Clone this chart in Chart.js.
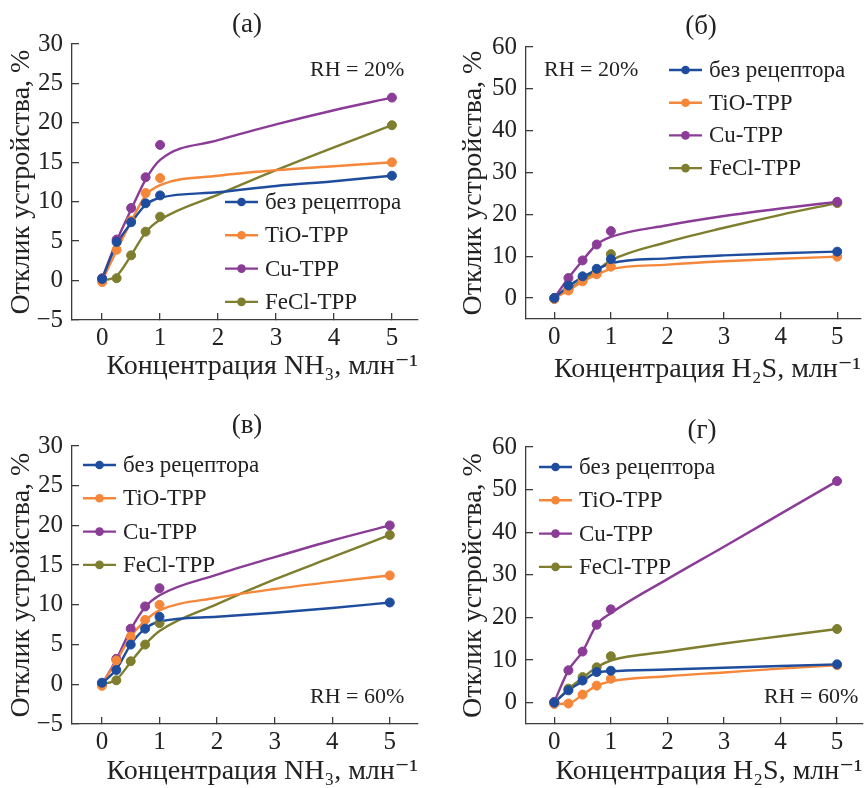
<!DOCTYPE html>
<html>
<head>
<meta charset="utf-8">
<script src="https://cdn.jsdelivr.net/npm/chart.js@4.4.1/dist/chart.umd.min.js"></script>
<style>
  html, body { margin: 0; padding: 0; background: #fff; }
  #wrap { position: relative; width: 868px; height: 788px; }
  .panel { position: absolute; width: 434px; height: 394px; }
</style>
</head>
<body>
<div id="wrap">
  <div class="panel" style="left:0;top:0"><canvas id="chA" width="434" height="394"></canvas></div>
  <div class="panel" style="left:434px;top:0"><canvas id="chB" width="434" height="394"></canvas></div>
  <div class="panel" style="left:0;top:394px"><canvas id="chV" width="434" height="394"></canvas></div>
  <div class="panel" style="left:434px;top:394px"><canvas id="chG" width="434" height="394"></canvas></div>
</div>
<script>
// концентрации (млн^-1) и точки сглаживающих кривых
const concX = [0, 0.25, 0.5, 0.75, 1, 5];
const fitX = [0, 0.25, 0.5, 0.75, 1, 2, 3, 4, 5];
const xTicks = [0, 1, 2, 3, 4, 5];
const yTicksNH3 = [-5, 0, 5, 10, 15, 20, 25, 30];
const yTicksH2S = [0, 10, 20, 30, 40, 50, 60];
const seriesNames = ["без рецептора", "TiO-TPP", "Cu-TPP", "FeCl-TPP"];

// (а) NH3, RH = 20%
const aBlank = [0.2, 4.9, 7.4, 9.8, 10.8, 13.3];
const aTiO = [-0.2, 3.9, 7.6, 11.1, 13.0, 15.0];
const aCu = [0.3, 5.2, 9.2, 13.1, 17.2, 23.2];
const aFeCl = [0.1, 0.3, 3.2, 6.2, 8.1, 19.7];
const aBlankFit = [0.2, 4.6, 7.3, 9.6, 10.5, 11.2, 12.0, 12.6, 13.3];
const aTiOFit = [0, 3.8, 7.5, 10.8, 12.1, 13.3, 14.0, 14.5, 15.0];
const aCuFit = [0.3, 5.0, 9.0, 12.8, 15.3, 17.8, 19.8, 21.6, 23.2];
const aFeClFit = [0, 0.6, 3.2, 6.1, 7.7, 10.9, 14.0, 16.9, 19.7];

// (б) H2S, RH = 20%
const bBlank = [0, 3.0, 5.2, 7.0, 9.3, 11.1];
const bTiO = [-0.2, 1.8, 4.0, 5.7, 7.5, 9.9];
const bCu = [0, 4.8, 9.0, 12.8, 16.0, 23.0];
const bFeCl = [-0.2, 2.1, 4.5, 6.5, 10.5, 22.7];
const bBlankFit = [0, 2.8, 5.0, 6.8, 8.3, 9.5, 10.2, 10.7, 11.1];
const bTiOFit = [0, 1.8, 4.0, 5.6, 6.9, 8.0, 8.8, 9.4, 9.9];
const bCuFit = [0, 4.8, 9.0, 12.8, 14.6, 17.4, 19.6, 21.4, 23.0];
const bFeClFit = [0, 2.0, 4.3, 6.6, 9.0, 13.4, 16.8, 19.9, 22.7];

// (в) NH3, RH = 60%
const vBlank = [0.2, 1.8, 5.0, 7.0, 8.5, 10.3];
const vTiO = [-0.2, 3.0, 6.0, 8.1, 10.0, 13.7];
const vCu = [0, 3.2, 7.0, 9.8, 12.1, 20.0];
const vFeCl = [0, 0.5, 2.9, 5.0, 7.7, 18.8];
const vBlankFit = [0.1, 1.9, 5.0, 7.0, 7.9, 8.5, 9.0, 9.6, 10.3];
const vTiOFit = [0, 2.9, 6.0, 8.0, 9.3, 10.9, 12.0, 12.9, 13.7];
const vCuFit = [0, 3.1, 6.9, 9.7, 11.2, 13.8, 16.0, 18.1, 20.0];
const vFeClFit = [0, 0.6, 2.8, 5.0, 6.7, 10.1, 13.2, 16.0, 18.8];

// (г) H2S, RH = 60%
const gBlank = [0, 2.9, 5.2, 7.2, 7.5, 9.0];
const gTiO = [-0.3, -0.2, 1.9, 4.0, 5.6, 8.8];
const gCu = [0.2, 7.6, 12.0, 18.3, 21.9, 52.0];
const gFeCl = [0.1, 3.3, 6.0, 8.3, 10.9, 17.3];
const gBlankFit = [0, 2.9, 5.0, 7.1, 7.4, 7.8, 8.2, 8.6, 9.0];
const gTiOFit = [-0.3, -0.2, 1.9, 4.0, 5.0, 6.2, 7.1, 8.0, 8.8];
const gCuFit = [0.2, 7.6, 12.0, 18.3, 21.0, 29.0, 36.6, 44.3, 52.0];
const gFeClFit = [0, 3.2, 5.8, 8.3, 9.9, 12.0, 13.9, 15.6, 17.3];

const colors = ["#1f4d9e", "#f5873a", "#8a3c96", "#7e7e2e"];
const FONT = "'Liberation Serif', 'DejaVu Serif', serif";
const AXIS = "#3c3c3c";
const TITLE_SIZE = 28;

// подписи панели, легенда и RH
const panelDecor = {
    id: "panelDecor",
    afterDraw(chart, args, o) {
        const ctx = chart.ctx;
        ctx.save();
        ctx.fillStyle = "#222";
        ctx.textBaseline = "middle";

        ctx.font = "27px " + FONT;
        ctx.textAlign = "center";
        ctx.fillText(o.title, o.titleX, o.titleY);

        ctx.font = "22px " + FONT;
        ctx.textAlign = "left";
        ctx.fillText(o.rh, o.rhX, o.rhY);

        ctx.font = "23px " + FONT;
        seriesNames.forEach((name, k) => {
            const y = o.legY + k * o.legGap;
            ctx.strokeStyle = colors[k];
            ctx.lineWidth = 2.4;
            ctx.beginPath();
            ctx.moveTo(o.legX, y);
            ctx.lineTo(o.legX + 33, y);
            ctx.stroke();
            ctx.fillStyle = colors[k];
            ctx.beginPath();
            ctx.arc(o.legX + 16.5, y, 4.3, 0, Math.PI * 2);
            ctx.fill();
            ctx.fillStyle = "#222";
            ctx.fillText(name, o.legX + 40, y + 1);
        });
        ctx.restore();
    }
};

function buildDatasets(points, fits) {
    const ds = [];
    points.forEach((arr, k) => {
        ds.push({
            label: seriesNames[k],
            data: concX.map((x, i) => ({ x, y: arr[i] })),
            showLine: false,
            pointRadius: 4.5,
            pointHoverRadius: 4.5,
            pointBackgroundColor: colors[k],
            pointBorderColor: colors[k],
            order: 0
        });
        ds.push({
            label: seriesNames[k] + " fit",
            data: fitX.map((x, i) => ({ x, y: fits[k][i] })),
            borderColor: colors[k],
            borderWidth: 2.4,
            pointRadius: 0,
            cubicInterpolationMode: "monotone",
            fill: false,
            order: 1
        });
    });
    return ds;
}

function makePanel(id, p) {
    const lh = TITLE_SIZE * 1.2;
    new Chart(document.getElementById(id), {
        type: "line",
        data: { datasets: buildDatasets(p.points, p.fits) },
        options: {
            responsive: false,
            animation: false,
            events: [],
            layout: { padding: { left: 0, top: p.area.t, right: 434 - p.area.r, bottom: 0 } },
            plugins: {
                legend: { display: false },
                tooltip: { enabled: false },
                panelDecor: p.decor
            },
            scales: {
                x: {
                    type: "linear",
                    min: p.xMin,
                    max: p.xMax,
                    afterBuildTicks: s => { s.ticks = xTicks.map(v => ({ value: v })); },
                    afterFit: s => { s.height = 394 - p.area.b; },
                    border: { display: true, color: AXIS, width: 1.3 },
                    grid: { drawOnChartArea: false, drawTicks: true, tickLength: -7, color: AXIS, lineWidth: 1.3 },
                    ticks: { color: "#222", padding: 10, font: { family: FONT, size: 25 } },
                    title: {
                        display: true,
                        text: p.xTitle,
                        align: "end",
                        color: "#222",
                        font: { family: FONT, size: TITLE_SIZE },
                        padding: { top: 0, bottom: Math.max(0, 394 - p.xTitleY - lh / 2) }
                    }
                },
                y: {
                    min: p.yMin,
                    max: p.yMax,
                    afterBuildTicks: s => { s.ticks = p.yTicks.map(v => ({ value: v })); },
                    afterFit: s => { s.width = p.area.l; },
                    border: { display: true, color: AXIS, width: 1.3 },
                    grid: { drawOnChartArea: false, drawTicks: true, tickLength: -7, color: AXIS, lineWidth: 1.3 },
                    ticks: {
                        color: "#222",
                        padding: 16,
                        font: { family: FONT, size: 25 },
                        callback: v => (v < 0 ? "\u2212" + Math.abs(v) : v)
                    },
                    title: {
                        display: true,
                        text: "Отклик устройства, %",
                        color: "#222",
                        font: { family: FONT, size: TITLE_SIZE },
                        padding: { top: Math.max(0, p.yTitleX - lh / 2), bottom: 0 }
                    }
                }
            }
        },
        plugins: [panelDecor]
    });
}

makePanel("chA", {
    points: [aBlank, aTiO, aCu, aFeCl],
    fits: [aBlankFit, aTiOFit, aCuFit, aFeClFit],
    yTicks: yTicksNH3, yMin: -5, yMax: 30, xMin: -0.52, xMax: 5.45,
    area: { l: 72, t: 44, r: 418, b: 320 },
    xTitle: "Концентрация NH₃, млн⁻¹", xTitleY: 367, yTitleX: 22,
    decor: { title: "(а)", titleX: 247, titleY: 25, rh: "RH = 20%", rhX: 310, rhY: 70,
             legX: 225, legY: 202, legGap: 33.3 }
});

makePanel("chB", {
    points: [bBlank, bTiO, bCu, bFeCl],
    fits: [bBlankFit, bTiOFit, bCuFit, bFeClFit],
    yTicks: yTicksH2S, yMin: -5, yMax: 60, xMin: -0.5, xMax: 5.42,
    area: { l: 92, t: 47, r: 427, b: 319 },
    xTitle: "Концентрация H₂S, млн⁻¹", xTitleY: 370, yTitleX: 40,
    decor: { title: "(б)", titleX: 267, titleY: 27, rh: "RH = 20%", rhX: 110, rhY: 70,
             legX: 235, legY: 70, legGap: 32.7 }
});

makePanel("chV", {
    points: [vBlank, vTiO, vCu, vFeCl],
    fits: [vBlankFit, vTiOFit, vCuFit, vFeClFit],
    yTicks: yTicksNH3, yMin: -5, yMax: 30, xMin: -0.52, xMax: 5.49,
    area: { l: 72, t: 52, r: 418, b: 330 },
    xTitle: "Концентрация NH₃, млн⁻¹", xTitleY: 378, yTitleX: 22,
    decor: { title: "(в)", titleX: 247, titleY: 32, rh: "RH = 60%", rhX: 310, rhY: 303,
             legX: 83, legY: 71, legGap: 33.3 }
});

makePanel("chG", {
    points: [gBlank, gTiO, gCu, gFeCl],
    fits: [gBlankFit, gTiOFit, gCuFit, gFeClFit],
    yTicks: yTicksH2S, yMin: -5, yMax: 60, xMin: -0.5, xMax: 5.45,
    area: { l: 92, t: 53, r: 433, b: 330 },
    xTitle: "Концентрация H₂S, млн⁻¹", xTitleY: 380, yTitleX: 40,
    decor: { title: "(г)", titleX: 268, titleY: 37, rh: "RH = 60%", rhX: 330, rhY: 303,
             legX: 105, legY: 73, legGap: 33.3 }
});
</script>
</body>
</html>
